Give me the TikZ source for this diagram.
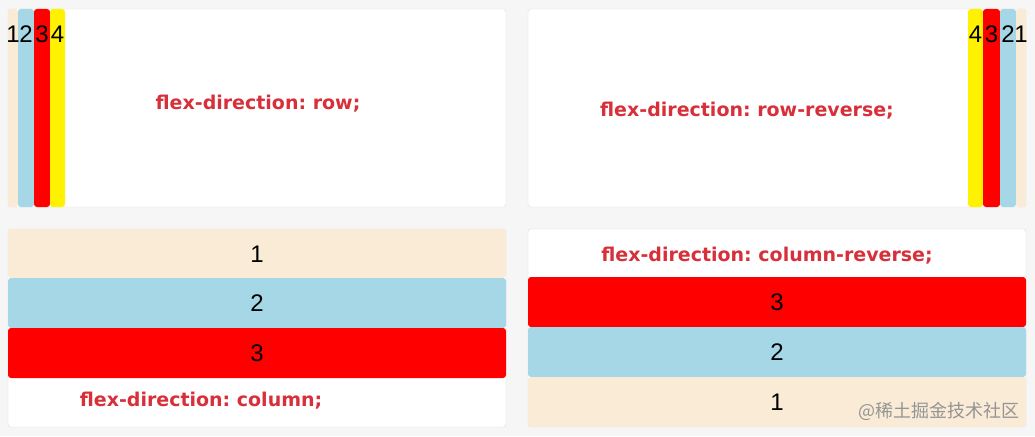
\documentclass[tikz,border=0pt]{standalone}
\usepackage{fontspec}
\setmainfont{Liberation Sans}
\newfontfamily\rulefont{DejaVu Sans}
\newfontfamily\cjk{Noto Sans CJK SC}
\definecolor{pagegray}{HTML}{F6F6F6}
\definecolor{panelline}{HTML}{DEDEDE}
\definecolor{antique}{HTML}{FAEBD7}
\definecolor{sky}{HTML}{A5D7E6}
\definecolor{labelred}{HTML}{D7303A}
\frenchspacing
\tikzset{
  panel/.style={draw=panelline, fill=white, rounded corners=3pt},
  item/.style={rounded corners=3pt},
  num/.style={font=\fontsize{24}{24}\selectfont, inner sep=0pt},
  ruletext/.style={text=labelred, font=\rulefont\bfseries\fontsize{19}{19}\selectfont, inner sep=0pt},
  wmtext/.style={text=black!42, font=\cjk\fontsize{18}{18}\selectfont, inner sep=0pt}
}
\begin{document}
\begin{tikzpicture}[x=1pt,y=-1pt]
\fill [pagegray] (0,0) rectangle (1035,436);

% row
\draw [panel] (8,9) rectangle (506,207);
\fill [item,antique] (8,9) rectangle (18,207);
\fill [item,sky] (18,9) rectangle (34,207);
\fill [item,red] (34,9) rectangle (50,207);
\fill [item,yellow] (50,9) rectangle (65,207);
\node [num] (a1) at (13,34) {1};
\node [num] (a2) at (26,34) {2};
\node [num] (a3) at (42,34) {3};
\node [num] (a4) at (57.5,34) {4};
\node [ruletext] (rowtext) at (258,104) {flex-direction: row;};

% row-reverse
\draw [panel] (528,9) rectangle (1026,207);
\fill [item,yellow] (968,9) rectangle (983,207);
\fill [item,red] (983,9) rectangle (1000,207);
\fill [item,sky] (1000,9) rectangle (1016,207);
\fill [item,antique] (1016,9) rectangle (1026,207);
\node [num] (b4) at (975.5,34) {4};
\node [num] (b3) at (991.5,34) {3};
\node [num] (b2) at (1008,34) {2};
\node [num] (b1) at (1021,34) {1};
\node [ruletext] (rowrevtext) at (747,111) {flex-direction: row-reverse;};

% column
\draw [panel] (8,229) rectangle (506,427);
\fill [item,antique] (8,229) rectangle (506,278);
\fill [item,sky] (8,278) rectangle (506,328);
\fill [item,red] (8,328) rectangle (506,378);
\node [num] (c1) at (257,254) {1};
\node [num] (c2) at (257,303) {2};
\node [num] (c3) at (257,353) {3};
\node [ruletext] (coltext) at (201,401) {flex-direction: column;};

% column-reverse
\draw [panel] (528,229) rectangle (1026,427);
\fill [item,red] (528,277) rectangle (1026,327);
\fill [item,sky] (528,327) rectangle (1026,377);
\fill [item,antique] (528,377) rectangle (1026,427);
\node [num] (d3) at (777,302) {3};
\node [num] (d2) at (777,352) {2};
\node [num] (d1) at (777,402) {1};
\node [ruletext] (colrevtext) at (767,256) {flex-direction: column-reverse;};
\node [wmtext, anchor=east] (wm) at (1020,411) {@稀土掘金技术社区};
\end{tikzpicture}
\end{document}
